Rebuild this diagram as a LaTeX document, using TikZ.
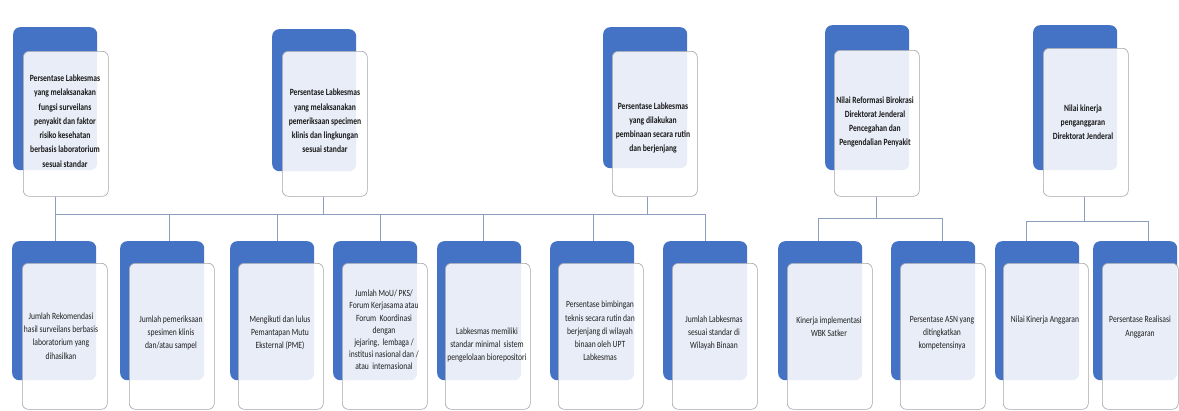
\documentclass[tikz,border=0pt]{standalone}
\usepackage{fontspec}
\newfontfamily\cf[FakeStretch=0.8]{Carlito}
\definecolor{myblue}{RGB}{68,114,196}
\definecolor{boxgray}{RGB}{165,165,170}
\definecolor{linecol}{RGB}{140,158,190}
\tikzset{
  bluebox/.style={fill=myblue, draw=none, rounded corners=7pt, minimum width=84pt, minimum height=#1, inner sep=0pt, anchor=north west},
  whitebox/.style={fill=white, fill opacity=0.88, draw=boxgray, line width=0.6pt, rounded corners=6pt, minimum width=85pt, minimum height=#1, inner sep=0pt, anchor=north west},
  toptext/.style={align=center, inner sep=0pt, text=black!90, font=\cf\bfseries\fontsize{9.5}{14.3}\selectfont},
  bottext/.style={align=center, inner sep=0pt, text=black!88, font=\cf\fontsize{9.5}{13.2}\selectfont},
  conn/.style={draw=linecol, line width=0.8pt}
}
\begin{document}
\begin{tikzpicture}[x=1pt, y=-1pt]
\useasboundingbox (0,0) rectangle (1179,410);
\fill[white] (0,0) rectangle (1179,410);
% ---------- top boxes ----------
\node[bluebox=143pt] (t1b) at (13,27) {};
\node[whitebox=145pt] (t1w) at (23,51) {};
\node[toptext] (t1t) at (65,121) {Persentase Labkesmas\\yang melaksanakan\\fungsi surveilans\\penyakit dan faktor\\risiko kesehatan\\berbasis laboratorium\\sesuai standar};

\node[bluebox=142pt] (t2b) at (272,29) {};
\node[whitebox=145pt] (t2w) at (282,51) {};
\node[toptext] (t2t) at (325,121) {Persentase Labkesmas\\yang melaksanakan\\pemeriksaan specimen\\klinis dan lingkungan\\sesuai standar};

\node[bluebox=141pt] (t3b) at (603,27) {};
\node[whitebox=145pt] (t3w) at (612,51) {};
\node[toptext] (t3t) at (653,128) {Persentase Labkesmas\\yang dilakukan\\pembinaan secara rutin\\dan berjenjang};

\node[bluebox=145pt] (t4b) at (825,25) {};
\node[whitebox=146pt] (t4w) at (834,50) {};
\node[toptext] (t4t) at (875,122) {Nilai Reformasi Birokrasi\\Direktorat Jenderal\\Pencegahan dan\\Pengendalian Penyakit};

\node[bluebox=145pt] (t5b) at (1033,25) {};
\node[whitebox=148pt] (t5w) at (1043,48) {};
\node[toptext] (t5t) at (1083,122) {Nilai kinerja\\penganggaran\\Direktorat Jenderal};

% ---------- bottom boxes ----------
\node[bluebox=139pt] (b1b) at (12,241) {};
\node[whitebox=146pt] (b1w) at (22,263) {};
\node[bottext] (b1t) at (61,336) {Jumlah Rekomendasi\\hasil surveilans berbasis\\laboratorium yang\\dihasilkan};

\node[bluebox=139pt] (b2b) at (120,241) {};
\node[whitebox=146pt] (b2w) at (129,263) {};
\node[bottext] (b2t) at (171,333) {Jumlah pemeriksaan\\spesimen klinis\\dan/atau sampel};

\node[bluebox=139pt] (b3b) at (230,241) {};
\node[whitebox=146pt] (b3w) at (238,263) {};
\node[bottext] (b3t) at (280,333) {Mengikuti dan lulus\\Pemantapan Mutu\\Eksternal (PME)};

\node[bluebox=139pt] (b4b) at (333,241) {};
\node[whitebox=146pt] (b4w) at (342,263) {};
\node[bottext, font=\cf\fontsize{9.5}{12.2}\selectfont] (b4t) at (384,330) {Jumlah MoU/ PKS/\\Forum Kerjasama atau\\Forum\ \ Koordinasi\\dengan\\jejaring,\ \ lembaga /\\institusi nasional dan /\\atau\ \ internasional};

\node[bluebox=139pt] (b5b) at (437,241) {};
\node[whitebox=146pt] (b5w) at (445,263) {};
\node[bottext] (b5t) at (487,345) {Labkesmas memiliki\\standar minimal\ \ sistem\\pengelolaan biorepositori};

\node[bluebox=139pt] (b6b) at (550,241) {};
\node[whitebox=146pt] (b6w) at (558,263) {};
\node[bottext] (b6t) at (600,331) {Persentase bimbingan\\teknis secara rutin dan\\berjenjang di wilayah\\binaan oleh UPT\\Labkesmas};

\node[bluebox=139pt] (b7b) at (663,241) {};
\node[whitebox=146pt] (b7w) at (672,263) {};
\node[bottext] (b7t) at (714,333) {Jumlah Labkesmas\\sesuai standar di\\Wilayah Binaan};

\node[bluebox=139pt] (b8b) at (778,241) {};
\node[whitebox=146pt] (b8w) at (787,263) {};
\node[bottext] (b8t) at (829,327) {Kinerja implementasi\\WBK Satker};

\node[bluebox=139pt] (b9b) at (891,241) {};
\node[whitebox=146pt] (b9w) at (900,263) {};
\node[bottext] (b9t) at (942,333) {Persentase ASN yang\\ditingkatkan\\kompetensinya};

\node[bluebox=139pt] (b10b) at (995,241) {};
\node[whitebox=146pt] (b10w) at (1003,263) {};
\node[bottext] (b10t) at (1045,320) {Nilai Kinerja Anggaran};

\node[bluebox=139pt] (b11b) at (1093,241) {};
\node[whitebox=146pt, minimum width=76pt] (b11w) at (1102,263) {};
\node[bottext] (b11t) at (1140,327) {Persentase Realisasi\\Anggaran};

% ---------- connectors ----------
\coordinate (j1) at (55,214);
\coordinate (j2) at (169,214);
\coordinate (j3) at (277,214);
\coordinate (j4) at (380,214);
\coordinate (j5) at (483,214);
\coordinate (j6) at (593,214);
\coordinate (j7) at (705,214);
\coordinate (k1) at (323,214);
\coordinate (k2) at (647,214);
\coordinate (g4l) at (818,218);
\coordinate (g4m) at (876,218);
\coordinate (g4r) at (942,218);
\coordinate (g5l) at (1026,221);
\coordinate (g5m) at (1084,221);
\coordinate (g5r) at (1148,221);

\draw[conn] (t1w.south -| j1) -- (j1);
\draw[conn] (t2w.south -| k1) -- (k1);
\draw[conn] (t3w.south -| k2) -- (k2);
\draw[conn] (j1) -- (j7);
\draw[conn] (j1) -- (j1 |- b1b.north);
\draw[conn] (j2) -- (j2 |- b2b.north);
\draw[conn] (j3) -- (j3 |- b3b.north);
\draw[conn] (j4) -- (j4 |- b4b.north);
\draw[conn] (j5) -- (j5 |- b5b.north);
\draw[conn] (j6) -- (j6 |- b6b.north);
\draw[conn] (j7) -- (j7 |- b7b.north);

\draw[conn] (t4w.south -| g4m) -- (g4m);
\draw[conn] (g4l) -- (g4r);
\draw[conn] (g4l) -- (g4l |- b8b.north);
\draw[conn] (g4r) -- (g4r |- b9b.north);

\draw[conn] (t5w.south -| g5m) -- (g5m);
\draw[conn] (g5l) -- (g5r);
\draw[conn] (g5l) -- (g5l |- b10b.north);
\draw[conn] (g5r) -- (g5r |- b11b.north);
\end{tikzpicture}
\end{document}
